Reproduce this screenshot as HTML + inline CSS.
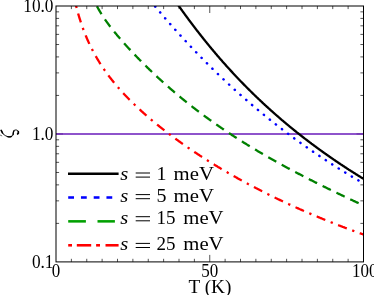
<!DOCTYPE html>
<html><head><meta charset="utf-8"><title>chart</title>
<style>html,body{margin:0;padding:0;background:#fff;width:374px;height:295px;overflow:hidden}</style></head>
<body>
<svg width="374" height="295" viewBox="0 0 374 295" style="display:block;position:absolute;left:0;top:0;will-change:transform">
<defs><clipPath id="c"><rect x="56.0" y="6.0" width="307.5" height="255.89999999999998"/></clipPath></defs>
<rect width="374" height="295" fill="#fff"/>
<path d="M71.38,261.9v-3.1M71.38,6.0v3.1M86.75,261.9v-3.1M86.75,6.0v3.1M102.12,261.9v-3.1M102.12,6.0v3.1M117.50,261.9v-3.1M117.50,6.0v3.1M132.88,261.9v-3.1M132.88,6.0v3.1M148.25,261.9v-3.1M148.25,6.0v3.1M163.62,261.9v-3.1M163.62,6.0v3.1M179.00,261.9v-3.1M179.00,6.0v3.1M194.38,261.9v-3.1M194.38,6.0v3.1M209.75,261.9v-7.0M209.75,6.0v7.0M225.12,261.9v-3.1M225.12,6.0v3.1M240.50,261.9v-3.1M240.50,6.0v3.1M255.88,261.9v-3.1M255.88,6.0v3.1M271.25,261.9v-3.1M271.25,6.0v3.1M286.62,261.9v-3.1M286.62,6.0v3.1M302.00,261.9v-3.1M302.00,6.0v3.1M317.38,261.9v-3.1M317.38,6.0v3.1M332.75,261.9v-3.1M332.75,6.0v3.1M348.12,261.9v-3.1M348.12,6.0v3.1M56.0,223.38h3.1M363.5,223.38h-3.1M56.0,200.85h3.1M363.5,200.85h-3.1M56.0,184.87h3.1M363.5,184.87h-3.1M56.0,172.47h3.1M363.5,172.47h-3.1M56.0,162.34h3.1M363.5,162.34h-3.1M56.0,153.77h3.1M363.5,153.77h-3.1M56.0,146.35h3.1M363.5,146.35h-3.1M56.0,139.80h3.1M363.5,139.80h-3.1M56.0,133.95h7.0M363.5,133.95h-7.0M56.0,95.43h3.1M363.5,95.43h-3.1M56.0,72.90h3.1M363.5,72.90h-3.1M56.0,56.92h3.1M363.5,56.92h-3.1M56.0,44.52h3.1M363.5,44.52h-3.1M56.0,34.39h3.1M363.5,34.39h-3.1M56.0,25.82h3.1M363.5,25.82h-3.1M56.0,18.40h3.1M363.5,18.40h-3.1M56.0,11.85h3.1M363.5,11.85h-3.1" stroke="#000" stroke-opacity="0.75" stroke-width="0.9" fill="none"/>
<line x1="56.0" x2="363.5" y1="133.95" y2="133.95" stroke="rgb(104,26,185)" stroke-opacity="0.75" stroke-width="2"/>
<g clip-path="url(#c)" fill="none" stroke-width="2.30">
<path d="M74.50,-0.55 L74.98,1.51 L75.47,3.50 L75.95,5.44 L76.44,7.33 L76.92,9.16 L77.41,10.94 L77.89,12.67 L78.38,14.36 L78.86,16.00 L79.35,17.60 L79.83,19.16 L80.32,20.69 L80.80,22.18 L81.29,23.63 L81.77,25.05 L82.26,26.44 L82.74,27.79 L83.23,29.12 L83.71,30.42 L84.20,31.70 L84.68,32.94 L85.17,34.17 L85.65,35.36 L86.14,36.54 L86.62,37.69 L87.11,38.83 L87.59,39.94 L88.08,41.03 L88.56,42.10 L89.05,43.16 L89.53,44.20 L90.02,45.22 L90.50,46.22 L90.99,47.21 L91.47,48.18 L91.96,49.14 L92.44,50.08 L92.93,51.01 L93.41,51.93 L93.90,52.83 L94.38,53.72 L94.87,54.60 L95.35,55.47 L95.84,56.33 L96.32,57.17 L96.81,58.00 L97.29,58.83 L97.78,59.64 L98.26,60.44 L98.75,61.24 L99.23,62.02 L99.72,62.80 L100.20,63.57 L100.69,64.33 L101.17,65.08 L101.66,65.82 L102.14,66.55 L102.63,67.28 L103.11,68.00 L103.60,68.71 L104.08,69.42 L104.57,70.12 L105.05,70.81 L105.54,71.49 L106.02,72.17 L106.51,72.85 L106.99,73.51 L107.48,74.17 L107.96,74.83 L108.45,75.48 L108.93,76.12 L109.42,76.76 L109.90,77.40 L110.39,78.02 L110.87,78.65 L111.36,79.27 L111.84,79.88 L112.33,80.49 L112.81,81.09 L113.30,81.69 L113.78,82.29 L114.27,82.88 L114.75,83.47 L115.24,84.05 L115.72,84.63 L116.21,85.21 L116.69,85.78 L117.18,86.35 L117.66,86.91 L118.15,87.47 L118.63,88.03 L119.12,88.58 L119.60,89.13 L120.09,89.68 L120.57,90.22 L121.06,90.76 L121.54,91.29 L122.03,91.83 L122.51,92.36 L123.00,92.89 L123.48,93.41 L123.97,93.93 L124.45,94.45 L124.94,94.97 L125.42,95.48 L125.91,95.99 L126.39,96.50 L126.88,97.00 L127.36,97.50 L127.85,98.00 L128.33,98.50 L128.82,99.00 L129.30,99.49 L129.79,99.98 L130.27,100.47 L130.76,100.95 L131.24,101.43 L131.73,101.91 L132.21,102.39 L132.70,102.87 L133.18,103.34 L133.67,103.82 L134.15,104.29 L134.64,104.75 L135.12,105.22 L135.61,105.68 L136.09,106.14 L136.58,106.60 L137.06,107.06 L137.55,107.52 L138.03,107.97 L138.52,108.42 L139.00,108.87 L139.49,109.32 L139.97,109.77 L140.46,110.22 L140.94,110.66 L141.43,111.10 L141.91,111.54 L142.40,111.98 L142.88,112.41 L143.37,112.85 L143.85,113.28 L144.34,113.71 L144.82,114.14 L145.31,114.57 L145.79,115.00 L146.28,115.43 L146.76,115.85 L147.25,116.27 L147.73,116.69 L148.22,117.11 L148.70,117.53 L149.19,117.95 L149.67,118.36 L150.16,118.78 L150.64,119.19 L151.13,119.60 L151.61,120.01 L152.10,120.42 L152.58,120.82 L153.07,121.23 L153.55,121.63 L154.04,122.04 L154.52,122.44 L155.01,122.84 L155.49,123.24 L155.98,123.64 L156.46,124.03 L156.95,124.43 L157.43,124.82 L157.92,125.22 L158.40,125.61 L158.89,126.00 L159.37,126.39 L159.86,126.78 L160.34,127.16 L160.83,127.55 L161.31,127.93 L161.80,128.32 L162.28,128.70 L162.77,129.08 L163.25,129.46 L163.74,129.84 L164.22,130.22 L164.71,130.60 L165.19,130.97 L165.68,131.35 L166.16,131.72 L166.65,132.10 L167.13,132.47 L167.62,132.84 L168.10,133.21 L168.59,133.58 L169.07,133.95 L169.56,134.31 L170.04,134.68 L170.53,135.04 L171.01,135.41 L171.49,135.77 L171.98,136.13 L172.46,136.49 L172.95,136.85 L173.43,137.21 L173.92,137.57 L174.40,137.93 L174.89,138.29 L175.37,138.64 L175.86,139.00 L176.34,139.35 L176.83,139.70 L177.31,140.06 L177.80,140.41 L178.28,140.76 L178.77,141.11 L179.25,141.45 L179.74,141.80 L180.22,142.15 L180.71,142.50 L181.19,142.84 L181.68,143.18 L182.16,143.53 L182.65,143.87 L183.13,144.21 L183.62,144.55 L184.10,144.89 L184.59,145.23 L185.07,145.57 L185.56,145.91 L186.04,146.25 L186.53,146.58 L187.01,146.92 L187.50,147.25 L187.98,147.59 L188.47,147.92 L188.95,148.25 L189.44,148.58 L189.92,148.91 L190.41,149.24 L190.89,149.57 L191.38,149.90 L191.86,150.23 L192.35,150.56 L192.83,150.88 L193.32,151.21 L193.80,151.53 L194.29,151.86 L194.77,152.18 L195.26,152.50 L195.74,152.83 L196.23,153.15 L196.71,153.47 L197.20,153.79 L197.68,154.11 L198.17,154.43 L198.65,154.74 L199.14,155.06 L199.62,155.38 L200.11,155.69 L200.59,156.01 L201.08,156.32 L201.56,156.63 L202.05,156.95 L202.53,157.26 L203.02,157.57 L203.50,157.88 L203.99,158.19 L204.47,158.50 L204.96,158.81 L205.44,159.12 L205.93,159.43 L206.41,159.73 L206.90,160.04 L207.38,160.35 L207.87,160.65 L208.35,160.96 L208.84,161.26 L209.32,161.56 L209.81,161.87 L210.29,162.17 L210.78,162.47 L211.26,162.77 L211.75,163.07 L212.23,163.37 L212.72,163.67 L213.20,163.97 L213.69,164.26 L214.17,164.56 L214.66,164.86 L215.14,165.15 L215.63,165.45 L216.11,165.74 L216.60,166.04 L217.08,166.33 L217.57,166.62 L218.05,166.92 L218.54,167.21 L219.02,167.50 L219.51,167.79 L219.99,168.08 L220.48,168.37 L220.96,168.66 L221.45,168.95 L221.93,169.23 L222.42,169.52 L222.90,169.81 L223.39,170.09 L223.87,170.38 L224.36,170.66 L224.84,170.95 L225.33,171.23 L225.81,171.52 L226.30,171.80 L226.78,172.08 L227.27,172.36 L227.75,172.64 L228.24,172.92 L228.72,173.20 L229.21,173.48 L229.69,173.76 L230.18,174.04 L230.66,174.32 L231.15,174.59 L231.63,174.87 L232.12,175.15 L232.60,175.42 L233.09,175.70 L233.57,175.97 L234.06,176.25 L234.54,176.52 L235.03,176.79 L235.51,177.07 L236.00,177.34 L236.48,177.61 L236.97,177.88 L237.45,178.15 L237.94,178.42 L238.42,178.69 L238.91,178.96 L239.39,179.23 L239.88,179.50 L240.36,179.76 L240.85,180.03 L241.33,180.30 L241.82,180.56 L242.30,180.83 L242.79,181.09 L243.27,181.36 L243.76,181.62 L244.24,181.89 L244.73,182.15 L245.21,182.41 L245.70,182.67 L246.18,182.93 L246.67,183.20 L247.15,183.46 L247.64,183.72 L248.12,183.98 L248.61,184.23 L249.09,184.49 L249.58,184.75 L250.06,185.01 L250.55,185.27 L251.03,185.52 L251.52,185.78 L252.00,186.04 L252.49,186.29 L252.97,186.55 L253.46,186.80 L253.94,187.05 L254.43,187.31 L254.91,187.56 L255.40,187.81 L255.88,188.07 L256.37,188.32 L256.85,188.57 L257.34,188.82 L257.82,189.07 L258.31,189.32 L258.79,189.57 L259.28,189.82 L259.76,190.07 L260.25,190.32 L260.73,190.56 L261.22,190.81 L261.70,191.06 L262.19,191.30 L262.67,191.55 L263.16,191.79 L263.64,192.04 L264.13,192.28 L264.61,192.53 L265.10,192.77 L265.58,193.02 L266.07,193.26 L266.55,193.50 L267.04,193.74 L267.52,193.98 L268.01,194.23 L268.49,194.47 L268.97,194.71 L269.46,194.95 L269.94,195.19 L270.43,195.43 L270.91,195.66 L271.40,195.90 L271.88,196.14 L272.37,196.38 L272.85,196.61 L273.34,196.85 L273.82,197.09 L274.31,197.32 L274.79,197.56 L275.28,197.79 L275.76,198.03 L276.25,198.26 L276.73,198.49 L277.22,198.73 L277.70,198.96 L278.19,199.19 L278.67,199.43 L279.16,199.66 L279.64,199.89 L280.13,200.12 L280.61,200.35 L281.10,200.58 L281.58,200.81 L282.07,201.04 L282.55,201.27 L283.04,201.50 L283.52,201.72 L284.01,201.95 L284.49,202.18 L284.98,202.40 L285.46,202.63 L285.95,202.86 L286.43,203.08 L286.92,203.31 L287.40,203.53 L287.89,203.76 L288.37,203.98 L288.86,204.21 L289.34,204.43 L289.83,204.65 L290.31,204.87 L290.80,205.10 L291.28,205.32 L291.77,205.54 L292.25,205.76 L292.74,205.98 L293.22,206.20 L293.71,206.42 L294.19,206.64 L294.68,206.86 L295.16,207.08 L295.65,207.30 L296.13,207.52 L296.62,207.73 L297.10,207.95 L297.59,208.17 L298.07,208.38 L298.56,208.60 L299.04,208.82 L299.53,209.03 L300.01,209.25 L300.50,209.46 L300.98,209.68 L301.47,209.89 L301.95,210.10 L302.44,210.32 L302.92,210.53 L303.41,210.74 L303.89,210.95 L304.38,211.17 L304.86,211.38 L305.35,211.59 L305.83,211.80 L306.32,212.01 L306.80,212.22 L307.29,212.43 L307.77,212.64 L308.26,212.85 L308.74,213.06 L309.23,213.27 L309.71,213.47 L310.20,213.68 L310.68,213.89 L311.17,214.10 L311.65,214.30 L312.14,214.51 L312.62,214.71 L313.11,214.92 L313.59,215.12 L314.08,215.33 L314.56,215.53 L315.05,215.74 L315.53,215.94 L316.02,216.15 L316.50,216.35 L316.99,216.55 L317.47,216.75 L317.96,216.96 L318.44,217.16 L318.93,217.36 L319.41,217.56 L319.90,217.76 L320.38,217.96 L320.87,218.16 L321.35,218.36 L321.84,218.56 L322.32,218.76 L322.81,218.96 L323.29,219.16 L323.78,219.35 L324.26,219.55 L324.75,219.75 L325.23,219.95 L325.72,220.14 L326.20,220.34 L326.69,220.54 L327.17,220.73 L327.66,220.93 L328.14,221.12 L328.63,221.32 L329.11,221.51 L329.60,221.71 L330.08,221.90 L330.57,222.09 L331.05,222.29 L331.54,222.48 L332.02,222.67 L332.51,222.86 L332.99,223.06 L333.48,223.25 L333.96,223.44 L334.45,223.63 L334.93,223.82 L335.42,224.01 L335.90,224.20 L336.39,224.39 L336.87,224.58 L337.36,224.77 L337.84,224.96 L338.33,225.15 L338.81,225.34 L339.30,225.52 L339.78,225.71 L340.27,225.90 L340.75,226.08 L341.24,226.27 L341.72,226.46 L342.21,226.64 L342.69,226.83 L343.18,227.01 L343.66,227.20 L344.15,227.38 L344.63,227.57 L345.12,227.75 L345.60,227.94 L346.09,228.12 L346.57,228.30 L347.06,228.49 L347.54,228.67 L348.03,228.85 L348.51,229.03 L349.00,229.22 L349.48,229.40 L349.97,229.58 L350.45,229.76 L350.94,229.94 L351.42,230.12 L351.91,230.30 L352.39,230.48 L352.88,230.66 L353.36,230.84 L353.85,231.02 L354.33,231.19 L354.82,231.37 L355.30,231.55 L355.79,231.73 L356.27,231.91 L356.76,232.08 L357.24,232.26 L357.73,232.44 L358.21,232.61 L358.70,232.79 L359.18,232.96 L359.67,233.14 L360.15,233.31 L360.64,233.49 L361.12,233.66 L361.61,233.84 L362.09,234.01 L362.58,234.18 L363.06,234.36 L363.55,234.53 L364.03,234.70 L364.52,234.88 L365.00,235.05" stroke="#ff0000" stroke-dasharray="9.3 5.75 2.3 5.75" stroke-dashoffset="8.55"/>
<path d="M95.50,3.40 L95.95,4.31 L96.40,5.19 L96.85,6.06 L97.30,6.91 L97.75,7.74 L98.20,8.56 L98.65,9.36 L99.10,10.15 L99.55,10.92 L100.00,11.68 L100.45,12.43 L100.90,13.17 L101.35,13.90 L101.80,14.62 L102.25,15.32 L102.70,16.02 L103.15,16.71 L103.60,17.39 L104.05,18.06 L104.50,18.72 L104.95,19.38 L105.40,20.03 L105.85,20.67 L106.30,21.31 L106.75,21.94 L107.20,22.56 L107.65,23.18 L108.10,23.79 L108.55,24.40 L109.00,25.00 L109.45,25.60 L109.90,26.19 L110.35,26.78 L110.80,27.36 L111.25,27.94 L111.70,28.52 L112.15,29.09 L112.60,29.66 L113.05,30.22 L113.50,30.78 L113.95,31.34 L114.40,31.90 L114.85,32.45 L115.30,33.00 L115.75,33.54 L116.20,34.09 L116.65,34.63 L117.10,35.16 L117.55,35.70 L118.00,36.23 L118.45,36.76 L118.90,37.29 L119.35,37.82 L119.80,38.34 L120.25,38.86 L120.70,39.38 L121.15,39.90 L121.60,40.41 L122.05,40.93 L122.49,41.44 L122.94,41.95 L123.39,42.45 L123.84,42.96 L124.29,43.46 L124.74,43.97 L125.19,44.47 L125.64,44.97 L126.09,45.46 L126.54,45.96 L126.99,46.45 L127.44,46.95 L127.89,47.44 L128.34,47.93 L128.79,48.42 L129.24,48.90 L129.69,49.39 L130.14,49.87 L130.59,50.36 L131.04,50.84 L131.49,51.32 L131.94,51.80 L132.39,52.28 L132.84,52.75 L133.29,53.23 L133.74,53.70 L134.19,54.17 L134.64,54.64 L135.09,55.11 L135.54,55.58 L135.99,56.05 L136.44,56.52 L136.89,56.98 L137.34,57.45 L137.79,57.91 L138.24,58.37 L138.69,58.83 L139.14,59.29 L139.59,59.75 L140.04,60.21 L140.49,60.66 L140.94,61.12 L141.39,61.57 L141.84,62.02 L142.29,62.48 L142.74,62.93 L143.19,63.38 L143.64,63.82 L144.09,64.27 L144.54,64.72 L144.99,65.16 L145.44,65.61 L145.89,66.05 L146.34,66.49 L146.79,66.93 L147.24,67.37 L147.69,67.81 L148.14,68.25 L148.59,68.69 L149.04,69.12 L149.49,69.56 L149.94,69.99 L150.39,70.43 L150.84,70.86 L151.29,71.29 L151.74,71.72 L152.19,72.15 L152.64,72.58 L153.09,73.00 L153.54,73.43 L153.99,73.85 L154.44,74.28 L154.89,74.70 L155.34,75.12 L155.79,75.54 L156.24,75.96 L156.69,76.38 L157.14,76.80 L157.59,77.22 L158.04,77.64 L158.49,78.05 L158.94,78.47 L159.39,78.88 L159.84,79.29 L160.29,79.70 L160.74,80.11 L161.19,80.52 L161.64,80.93 L162.09,81.34 L162.54,81.75 L162.99,82.15 L163.44,82.56 L163.89,82.96 L164.34,83.37 L164.79,83.77 L165.24,84.17 L165.69,84.57 L166.14,84.97 L166.59,85.37 L167.04,85.77 L167.49,86.16 L167.94,86.56 L168.39,86.95 L168.84,87.35 L169.29,87.74 L169.74,88.14 L170.19,88.53 L170.64,88.92 L171.09,89.31 L171.54,89.70 L171.99,90.08 L172.44,90.47 L172.89,90.86 L173.34,91.24 L173.79,91.63 L174.24,92.01 L174.69,92.40 L175.14,92.78 L175.59,93.16 L176.04,93.54 L176.48,93.92 L176.93,94.30 L177.38,94.67 L177.83,95.05 L178.28,95.43 L178.73,95.80 L179.18,96.18 L179.63,96.55 L180.08,96.92 L180.53,97.30 L180.98,97.67 L181.43,98.04 L181.88,98.41 L182.33,98.78 L182.78,99.14 L183.23,99.51 L183.68,99.88 L184.13,100.24 L184.58,100.61 L185.03,100.97 L185.48,101.33 L185.93,101.70 L186.38,102.06 L186.83,102.42 L187.28,102.78 L187.73,103.14 L188.18,103.50 L188.63,103.85 L189.08,104.21 L189.53,104.57 L189.98,104.92 L190.43,105.28 L190.88,105.63 L191.33,105.98 L191.78,106.34 L192.23,106.69 L192.68,107.04 L193.13,107.39 L193.58,107.74 L194.03,108.09 L194.48,108.43 L194.93,108.78 L195.38,109.13 L195.83,109.47 L196.28,109.82 L196.73,110.16 L197.18,110.50 L197.63,110.85 L198.08,111.19 L198.53,111.53 L198.98,111.87 L199.43,112.21 L199.88,112.55 L200.33,112.89 L200.78,113.22 L201.23,113.56 L201.68,113.90 L202.13,114.23 L202.58,114.57 L203.03,114.90 L203.48,115.23 L203.93,115.57 L204.38,115.90 L204.83,116.23 L205.28,116.56 L205.73,116.89 L206.18,117.22 L206.63,117.55 L207.08,117.87 L207.53,118.20 L207.98,118.53 L208.43,118.85 L208.88,119.18 L209.33,119.50 L209.78,119.83 L210.23,120.15 L210.68,120.47 L211.13,120.79 L211.58,121.12 L212.03,121.44 L212.48,121.76 L212.93,122.07 L213.38,122.39 L213.83,122.71 L214.28,123.03 L214.73,123.35 L215.18,123.66 L215.63,123.98 L216.08,124.29 L216.53,124.61 L216.98,124.92 L217.43,125.23 L217.88,125.54 L218.33,125.86 L218.78,126.17 L219.23,126.48 L219.68,126.79 L220.13,127.10 L220.58,127.41 L221.03,127.71 L221.48,128.02 L221.93,128.33 L222.38,128.63 L222.83,128.94 L223.28,129.25 L223.73,129.55 L224.18,129.85 L224.63,130.16 L225.08,130.46 L225.53,130.76 L225.98,131.06 L226.43,131.36 L226.88,131.67 L227.33,131.96 L227.78,132.26 L228.23,132.56 L228.68,132.86 L229.13,133.16 L229.58,133.46 L230.03,133.75 L230.47,134.05 L230.92,134.34 L231.37,134.64 L231.82,134.93 L232.27,135.23 L232.72,135.52 L233.17,135.81 L233.62,136.11 L234.07,136.40 L234.52,136.69 L234.97,136.98 L235.42,137.27 L235.87,137.56 L236.32,137.85 L236.77,138.14 L237.22,138.42 L237.67,138.71 L238.12,139.00 L238.57,139.29 L239.02,139.57 L239.47,139.86 L239.92,140.14 L240.37,140.43 L240.82,140.71 L241.27,140.99 L241.72,141.28 L242.17,141.56 L242.62,141.84 L243.07,142.12 L243.52,142.40 L243.97,142.69 L244.42,142.97 L244.87,143.25 L245.32,143.52 L245.77,143.80 L246.22,144.08 L246.67,144.36 L247.12,144.64 L247.57,144.91 L248.02,145.19 L248.47,145.47 L248.92,145.74 L249.37,146.02 L249.82,146.29 L250.27,146.56 L250.72,146.84 L251.17,147.11 L251.62,147.38 L252.07,147.66 L252.52,147.93 L252.97,148.20 L253.42,148.47 L253.87,148.74 L254.32,149.01 L254.77,149.28 L255.22,149.55 L255.67,149.82 L256.12,150.09 L256.57,150.35 L257.02,150.62 L257.47,150.89 L257.92,151.15 L258.37,151.42 L258.82,151.69 L259.27,151.95 L259.72,152.22 L260.17,152.48 L260.62,152.75 L261.07,153.01 L261.52,153.27 L261.97,153.54 L262.42,153.80 L262.87,154.06 L263.32,154.32 L263.77,154.58 L264.22,154.84 L264.67,155.10 L265.12,155.36 L265.57,155.62 L266.02,155.88 L266.47,156.14 L266.92,156.40 L267.37,156.66 L267.82,156.92 L268.27,157.17 L268.72,157.43 L269.17,157.69 L269.62,157.94 L270.07,158.20 L270.52,158.46 L270.97,158.71 L271.42,158.97 L271.87,159.22 L272.32,159.47 L272.77,159.73 L273.22,159.98 L273.67,160.23 L274.12,160.49 L274.57,160.74 L275.02,160.99 L275.47,161.24 L275.92,161.49 L276.37,161.75 L276.82,162.00 L277.27,162.25 L277.72,162.50 L278.17,162.75 L278.62,162.99 L279.07,163.24 L279.52,163.49 L279.97,163.74 L280.42,163.99 L280.87,164.24 L281.32,164.48 L281.77,164.73 L282.22,164.98 L282.67,165.22 L283.12,165.47 L283.57,165.71 L284.02,165.96 L284.46,166.20 L284.91,166.45 L285.36,166.69 L285.81,166.94 L286.26,167.18 L286.71,167.42 L287.16,167.67 L287.61,167.91 L288.06,168.15 L288.51,168.39 L288.96,168.63 L289.41,168.88 L289.86,169.12 L290.31,169.36 L290.76,169.60 L291.21,169.84 L291.66,170.08 L292.11,170.32 L292.56,170.56 L293.01,170.80 L293.46,171.04 L293.91,171.27 L294.36,171.51 L294.81,171.75 L295.26,171.99 L295.71,172.23 L296.16,172.46 L296.61,172.70 L297.06,172.94 L297.51,173.17 L297.96,173.41 L298.41,173.64 L298.86,173.88 L299.31,174.11 L299.76,174.35 L300.21,174.58 L300.66,174.82 L301.11,175.05 L301.56,175.29 L302.01,175.52 L302.46,175.75 L302.91,175.99 L303.36,176.22 L303.81,176.45 L304.26,176.68 L304.71,176.92 L305.16,177.15 L305.61,177.38 L306.06,177.61 L306.51,177.84 L306.96,178.07 L307.41,178.30 L307.86,178.53 L308.31,178.76 L308.76,178.99 L309.21,179.22 L309.66,179.45 L310.11,179.68 L310.56,179.91 L311.01,180.14 L311.46,180.37 L311.91,180.59 L312.36,180.82 L312.81,181.05 L313.26,181.28 L313.71,181.50 L314.16,181.73 L314.61,181.96 L315.06,182.18 L315.51,182.41 L315.96,182.64 L316.41,182.86 L316.86,183.09 L317.31,183.31 L317.76,183.54 L318.21,183.76 L318.66,183.99 L319.11,184.21 L319.56,184.44 L320.01,184.66 L320.46,184.88 L320.91,185.11 L321.36,185.33 L321.81,185.55 L322.26,185.78 L322.71,186.00 L323.16,186.22 L323.61,186.44 L324.06,186.67 L324.51,186.89 L324.96,187.11 L325.41,187.33 L325.86,187.55 L326.31,187.77 L326.76,187.99 L327.21,188.21 L327.66,188.44 L328.11,188.66 L328.56,188.88 L329.01,189.10 L329.46,189.32 L329.91,189.53 L330.36,189.75 L330.81,189.97 L331.26,190.19 L331.71,190.41 L332.16,190.63 L332.61,190.85 L333.06,191.07 L333.51,191.28 L333.96,191.50 L334.41,191.72 L334.86,191.94 L335.31,192.15 L335.76,192.37 L336.21,192.59 L336.66,192.81 L337.11,193.02 L337.56,193.24 L338.01,193.45 L338.45,193.67 L338.90,193.89 L339.35,194.10 L339.80,194.32 L340.25,194.53 L340.70,194.75 L341.15,194.96 L341.60,195.18 L342.05,195.39 L342.50,195.61 L342.95,195.82 L343.40,196.04 L343.85,196.25 L344.30,196.46 L344.75,196.68 L345.20,196.89 L345.65,197.11 L346.10,197.32 L346.55,197.53 L347.00,197.75 L347.45,197.96 L347.90,198.17 L348.35,198.38 L348.80,198.60 L349.25,198.81 L349.70,199.02 L350.15,199.23 L350.60,199.44 L351.05,199.66 L351.50,199.87 L351.95,200.08 L352.40,200.29 L352.85,200.50 L353.30,200.71 L353.75,200.92 L354.20,201.13 L354.65,201.34 L355.10,201.55 L355.55,201.76 L356.00,201.97 L356.45,202.18 L356.90,202.39 L357.35,202.60 L357.80,202.81 L358.25,203.02 L358.70,203.23 L359.15,203.44 L359.60,203.65 L360.05,203.86 L360.50,204.07 L360.95,204.28 L361.40,204.48 L361.85,204.69 L362.30,204.90 L362.75,205.11 L363.20,205.32 L363.65,205.53 L364.10,205.73 L364.55,205.94 L365.00,206.15" stroke="#008000" stroke-dasharray="9.2 6.17" stroke-dashoffset="12.16"/>
<path d="M153.50,4.45 L153.85,4.88 L154.21,5.30 L154.56,5.73 L154.91,6.15 L155.27,6.58 L155.62,7.00 L155.97,7.43 L156.32,7.85 L156.68,8.27 L157.03,8.69 L157.38,9.11 L157.74,9.53 L158.09,9.95 L158.44,10.37 L158.80,10.79 L159.15,11.21 L159.50,11.63 L159.86,12.05 L160.21,12.46 L160.56,12.88 L160.91,13.30 L161.27,13.71 L161.62,14.13 L161.97,14.54 L162.33,14.95 L162.68,15.37 L163.03,15.78 L163.39,16.19 L163.74,16.60 L164.09,17.01 L164.45,17.43 L164.80,17.84 L165.15,18.24 L165.51,18.65 L165.86,19.06 L166.21,19.47 L166.56,19.88 L166.92,20.28 L167.27,20.69 L167.62,21.10 L167.98,21.50 L168.33,21.91 L168.68,22.31 L169.04,22.71 L169.39,23.12 L169.74,23.52 L170.10,23.92 L170.45,24.32 L170.80,24.73 L171.15,25.13 L171.51,25.53 L171.86,25.93 L172.21,26.33 L172.57,26.72 L172.92,27.12 L173.27,27.52 L173.63,27.92 L173.98,28.31 L174.33,28.71 L174.69,29.11 L175.04,29.50 L175.39,29.90 L175.74,30.29 L176.10,30.68 L176.45,31.08 L176.80,31.47 L177.16,31.86 L177.51,32.26 L177.86,32.65 L178.22,33.04 L178.57,33.43 L178.92,33.82 L179.28,34.21 L179.63,34.60 L179.98,34.98 L180.33,35.37 L180.69,35.76 L181.04,36.15 L181.39,36.53 L181.75,36.92 L182.10,37.31 L182.45,37.69 L182.81,38.07 L183.16,38.46 L183.51,38.84 L183.87,39.23 L184.22,39.61 L184.57,39.99 L184.92,40.37 L185.28,40.75 L185.63,41.13 L185.98,41.51 L186.34,41.89 L186.69,42.27 L187.04,42.65 L187.40,43.03 L187.75,43.41 L188.10,43.79 L188.46,44.16 L188.81,44.54 L189.16,44.92 L189.52,45.29 L189.87,45.67 L190.22,46.04 L190.57,46.42 L190.93,46.79 L191.28,47.16 L191.63,47.54 L191.99,47.91 L192.34,48.28 L192.69,48.65 L193.05,49.02 L193.40,49.39 L193.75,49.76 L194.11,50.13 L194.46,50.50 L194.81,50.87 L195.16,51.24 L195.52,51.61 L195.87,51.97 L196.22,52.34 L196.58,52.71 L196.93,53.07 L197.28,53.44 L197.64,53.80 L197.99,54.17 L198.34,54.53 L198.70,54.90 L199.05,55.26 L199.40,55.62 L199.75,55.98 L200.11,56.35 L200.46,56.71 L200.81,57.07 L201.17,57.43 L201.52,57.79 L201.87,58.15 L202.23,58.51 L202.58,58.87 L202.93,59.23 L203.29,59.58 L203.64,59.94 L203.99,60.30 L204.34,60.65 L204.70,61.01 L205.05,61.37 L205.40,61.72 L205.76,62.08 L206.11,62.43 L206.46,62.78 L206.82,63.14 L207.17,63.49 L207.52,63.84 L207.88,64.20 L208.23,64.55 L208.58,64.90 L208.93,65.25 L209.29,65.60 L209.64,65.95 L209.99,66.30 L210.35,66.65 L210.70,67.00 L211.05,67.35 L211.41,67.69 L211.76,68.04 L212.11,68.39 L212.47,68.73 L212.82,69.08 L213.17,69.43 L213.53,69.77 L213.88,70.12 L214.23,70.46 L214.58,70.80 L214.94,71.15 L215.29,71.49 L215.64,71.83 L216.00,72.17 L216.35,72.52 L216.70,72.86 L217.06,73.20 L217.41,73.54 L217.76,73.88 L218.12,74.22 L218.47,74.56 L218.82,74.90 L219.17,75.23 L219.53,75.57 L219.88,75.91 L220.23,76.25 L220.59,76.58 L220.94,76.92 L221.29,77.26 L221.65,77.59 L222.00,77.93 L222.35,78.26 L222.71,78.59 L223.06,78.93 L223.41,79.26 L223.76,79.59 L224.12,79.93 L224.47,80.26 L224.82,80.59 L225.18,80.92 L225.53,81.25 L225.88,81.58 L226.24,81.91 L226.59,82.24 L226.94,82.57 L227.30,82.90 L227.65,83.23 L228.00,83.56 L228.35,83.88 L228.71,84.21 L229.06,84.54 L229.41,84.86 L229.77,85.19 L230.12,85.52 L230.47,85.84 L230.83,86.17 L231.18,86.49 L231.53,86.81 L231.89,87.14 L232.24,87.46 L232.59,87.78 L232.94,88.10 L233.30,88.43 L233.65,88.75 L234.00,89.07 L234.36,89.39 L234.71,89.71 L235.06,90.03 L235.42,90.35 L235.77,90.67 L236.12,90.99 L236.48,91.30 L236.83,91.62 L237.18,91.94 L237.54,92.26 L237.89,92.57 L238.24,92.89 L238.59,93.21 L238.95,93.52 L239.30,93.84 L239.65,94.15 L240.01,94.46 L240.36,94.78 L240.71,95.09 L241.07,95.41 L241.42,95.72 L241.77,96.03 L242.13,96.34 L242.48,96.65 L242.83,96.96 L243.18,97.28 L243.54,97.59 L243.89,97.90 L244.24,98.20 L244.60,98.51 L244.95,98.82 L245.30,99.13 L245.66,99.44 L246.01,99.75 L246.36,100.05 L246.72,100.36 L247.07,100.67 L247.42,100.97 L247.77,101.28 L248.13,101.58 L248.48,101.89 L248.83,102.19 L249.19,102.50 L249.54,102.80 L249.89,103.10 L250.25,103.41 L250.60,103.71 L250.95,104.01 L251.31,104.31 L251.66,104.62 L252.01,104.92 L252.36,105.22 L252.72,105.52 L253.07,105.82 L253.42,106.12 L253.78,106.42 L254.13,106.72 L254.48,107.01 L254.84,107.31 L255.19,107.61 L255.54,107.91 L255.90,108.20 L256.25,108.50 L256.60,108.80 L256.95,109.09 L257.31,109.39 L257.66,109.68 L258.01,109.98 L258.37,110.27 L258.72,110.57 L259.07,110.86 L259.43,111.15 L259.78,111.45 L260.13,111.74 L260.49,112.03 L260.84,112.32 L261.19,112.61 L261.55,112.90 L261.90,113.19 L262.25,113.49 L262.60,113.78 L262.96,114.06 L263.31,114.35 L263.66,114.64 L264.02,114.93 L264.37,115.22 L264.72,115.51 L265.08,115.79 L265.43,116.08 L265.78,116.37 L266.14,116.65 L266.49,116.94 L266.84,117.23 L267.19,117.51 L267.55,117.80 L267.90,118.08 L268.25,118.36 L268.61,118.65 L268.96,118.93 L269.31,119.21 L269.67,119.50 L270.02,119.78 L270.37,120.06 L270.73,120.34 L271.08,120.62 L271.43,120.91 L271.78,121.19 L272.14,121.47 L272.49,121.75 L272.84,122.03 L273.20,122.31 L273.55,122.58 L273.90,122.86 L274.26,123.14 L274.61,123.42 L274.96,123.70 L275.32,123.97 L275.67,124.25 L276.02,124.53 L276.37,124.80 L276.73,125.08 L277.08,125.35 L277.43,125.63 L277.79,125.90 L278.14,126.18 L278.49,126.45 L278.85,126.72 L279.20,127.00 L279.55,127.27 L279.91,127.54 L280.26,127.82 L280.61,128.09 L280.96,128.36 L281.32,128.63 L281.67,128.90 L282.02,129.17 L282.38,129.44 L282.73,129.71 L283.08,129.98 L283.44,130.25 L283.79,130.52 L284.14,130.79 L284.50,131.06 L284.85,131.32 L285.20,131.59 L285.56,131.86 L285.91,132.13 L286.26,132.39 L286.61,132.66 L286.97,132.92 L287.32,133.19 L287.67,133.45 L288.03,133.72 L288.38,133.98 L288.73,134.25 L289.09,134.51 L289.44,134.78 L289.79,135.04 L290.15,135.30 L290.50,135.56 L290.85,135.83 L291.20,136.09 L291.56,136.35 L291.91,136.61 L292.26,136.87 L292.62,137.13 L292.97,137.39 L293.32,137.65 L293.68,137.91 L294.03,138.17 L294.38,138.43 L294.74,138.69 L295.09,138.95 L295.44,139.20 L295.79,139.46 L296.15,139.72 L296.50,139.98 L296.85,140.23 L297.21,140.49 L297.56,140.75 L297.91,141.00 L298.27,141.26 L298.62,141.51 L298.97,141.77 L299.33,142.02 L299.68,142.27 L300.03,142.53 L300.38,142.78 L300.74,143.03 L301.09,143.29 L301.44,143.54 L301.80,143.79 L302.15,144.04 L302.50,144.30 L302.86,144.55 L303.21,144.80 L303.56,145.05 L303.92,145.30 L304.27,145.55 L304.62,145.80 L304.97,146.05 L305.33,146.30 L305.68,146.54 L306.03,146.79 L306.39,147.04 L306.74,147.29 L307.09,147.54 L307.45,147.78 L307.80,148.03 L308.15,148.28 L308.51,148.52 L308.86,148.77 L309.21,149.01 L309.57,149.26 L309.92,149.50 L310.27,149.75 L310.62,149.99 L310.98,150.24 L311.33,150.48 L311.68,150.73 L312.04,150.97 L312.39,151.21 L312.74,151.45 L313.10,151.70 L313.45,151.94 L313.80,152.18 L314.16,152.42 L314.51,152.66 L314.86,152.90 L315.21,153.14 L315.57,153.38 L315.92,153.62 L316.27,153.86 L316.63,154.10 L316.98,154.34 L317.33,154.58 L317.69,154.82 L318.04,155.06 L318.39,155.29 L318.75,155.53 L319.10,155.77 L319.45,156.00 L319.80,156.24 L320.16,156.48 L320.51,156.71 L320.86,156.95 L321.22,157.18 L321.57,157.42 L321.92,157.65 L322.28,157.89 L322.63,158.12 L322.98,158.36 L323.34,158.59 L323.69,158.82 L324.04,159.06 L324.39,159.29 L324.75,159.52 L325.10,159.75 L325.45,159.99 L325.81,160.22 L326.16,160.45 L326.51,160.68 L326.87,160.91 L327.22,161.14 L327.57,161.37 L327.93,161.60 L328.28,161.83 L328.63,162.06 L328.98,162.29 L329.34,162.52 L329.69,162.74 L330.04,162.97 L330.40,163.20 L330.75,163.43 L331.10,163.65 L331.46,163.88 L331.81,164.11 L332.16,164.33 L332.52,164.56 L332.87,164.79 L333.22,165.01 L333.58,165.24 L333.93,165.46 L334.28,165.69 L334.63,165.91 L334.99,166.14 L335.34,166.36 L335.69,166.58 L336.05,166.81 L336.40,167.03 L336.75,167.25 L337.11,167.47 L337.46,167.70 L337.81,167.92 L338.17,168.14 L338.52,168.36 L338.87,168.58 L339.22,168.80 L339.58,169.02 L339.93,169.24 L340.28,169.46 L340.64,169.68 L340.99,169.90 L341.34,170.12 L341.70,170.34 L342.05,170.56 L342.40,170.78 L342.76,171.00 L343.11,171.21 L343.46,171.43 L343.81,171.65 L344.17,171.86 L344.52,172.08 L344.87,172.30 L345.23,172.51 L345.58,172.73 L345.93,172.95 L346.29,173.16 L346.64,173.38 L346.99,173.59 L347.35,173.80 L347.70,174.02 L348.05,174.23 L348.40,174.45 L348.76,174.66 L349.11,174.87 L349.46,175.09 L349.82,175.30 L350.17,175.51 L350.52,175.72 L350.88,175.93 L351.23,176.15 L351.58,176.36 L351.94,176.57 L352.29,176.78 L352.64,176.99 L352.99,177.20 L353.35,177.41 L353.70,177.62 L354.05,177.83 L354.41,178.04 L354.76,178.25 L355.11,178.46 L355.47,178.66 L355.82,178.87 L356.17,179.08 L356.53,179.29 L356.88,179.50 L357.23,179.70 L357.59,179.91 L357.94,180.12 L358.29,180.32 L358.64,180.53 L359.00,180.73 L359.35,180.94 L359.70,181.14 L360.06,181.35 L360.41,181.55 L360.76,181.76 L361.12,181.96 L361.47,182.17 L361.82,182.37 L362.18,182.57 L362.53,182.78 L362.88,182.98 L363.23,183.18 L363.59,183.39 L363.94,183.59 L364.29,183.79 L364.65,183.99 L365.00,184.19" stroke="#0000ff" stroke-linecap="round" stroke-width="2.5" stroke-dasharray="0.2 7.48" stroke-dashoffset="5.01"/>
<path d="M176.00,1.98 L176.47,2.66 L176.95,3.33 L177.42,4.00 L177.89,4.67 L178.37,5.34 L178.84,6.01 L179.32,6.68 L179.79,7.34 L180.26,8.00 L180.74,8.67 L181.21,9.33 L181.68,9.99 L182.16,10.65 L182.63,11.30 L183.11,11.96 L183.58,12.61 L184.05,13.26 L184.53,13.92 L185.00,14.56 L185.47,15.21 L185.95,15.86 L186.42,16.50 L186.89,17.15 L187.37,17.79 L187.84,18.43 L188.32,19.07 L188.79,19.71 L189.26,20.35 L189.74,20.98 L190.21,21.62 L190.68,22.25 L191.16,22.88 L191.63,23.51 L192.11,24.14 L192.58,24.76 L193.05,25.39 L193.53,26.01 L194.00,26.63 L194.47,27.25 L194.95,27.87 L195.42,28.49 L195.89,29.11 L196.37,29.72 L196.84,30.34 L197.32,30.95 L197.79,31.56 L198.26,32.17 L198.74,32.78 L199.21,33.38 L199.68,33.99 L200.16,34.59 L200.63,35.19 L201.11,35.79 L201.58,36.39 L202.05,36.99 L202.53,37.59 L203.00,38.18 L203.47,38.77 L203.95,39.37 L204.42,39.96 L204.89,40.55 L205.37,41.13 L205.84,41.72 L206.32,42.31 L206.79,42.89 L207.26,43.47 L207.74,44.05 L208.21,44.63 L208.68,45.21 L209.16,45.79 L209.63,46.36 L210.11,46.94 L210.58,47.51 L211.05,48.08 L211.53,48.65 L212.00,49.22 L212.47,49.79 L212.95,50.35 L213.42,50.92 L213.89,51.48 L214.37,52.04 L214.84,52.60 L215.32,53.16 L215.79,53.72 L216.26,54.27 L216.74,54.83 L217.21,55.38 L217.68,55.94 L218.16,56.49 L218.63,57.04 L219.11,57.58 L219.58,58.13 L220.05,58.68 L220.53,59.22 L221.00,59.76 L221.47,60.31 L221.95,60.85 L222.42,61.39 L222.89,61.92 L223.37,62.46 L223.84,63.00 L224.32,63.53 L224.79,64.06 L225.26,64.59 L225.74,65.12 L226.21,65.65 L226.68,66.18 L227.16,66.71 L227.63,67.23 L228.11,67.76 L228.58,68.28 L229.05,68.80 L229.53,69.32 L230.00,69.84 L230.47,70.36 L230.95,70.87 L231.42,71.39 L231.89,71.90 L232.37,72.41 L232.84,72.93 L233.32,73.44 L233.79,73.95 L234.26,74.45 L234.74,74.96 L235.21,75.47 L235.68,75.97 L236.16,76.47 L236.63,76.98 L237.11,77.48 L237.58,77.98 L238.05,78.47 L238.53,78.97 L239.00,79.47 L239.47,79.96 L239.95,80.46 L240.42,80.95 L240.89,81.44 L241.37,81.93 L241.84,82.42 L242.32,82.91 L242.79,83.39 L243.26,83.88 L243.74,84.36 L244.21,84.85 L244.68,85.33 L245.16,85.81 L245.63,86.29 L246.11,86.77 L246.58,87.25 L247.05,87.72 L247.53,88.20 L248.00,88.67 L248.47,89.15 L248.95,89.62 L249.42,90.09 L249.89,90.56 L250.37,91.03 L250.84,91.50 L251.32,91.96 L251.79,92.43 L252.26,92.90 L252.74,93.36 L253.21,93.82 L253.68,94.28 L254.16,94.74 L254.63,95.20 L255.11,95.66 L255.58,96.12 L256.05,96.58 L256.53,97.03 L257.00,97.48 L257.47,97.94 L257.95,98.39 L258.42,98.84 L258.89,99.29 L259.37,99.74 L259.84,100.19 L260.32,100.64 L260.79,101.08 L261.26,101.53 L261.74,101.97 L262.21,102.41 L262.68,102.86 L263.16,103.30 L263.63,103.74 L264.11,104.18 L264.58,104.61 L265.05,105.05 L265.53,105.49 L266.00,105.92 L266.47,106.36 L266.95,106.79 L267.42,107.22 L267.89,107.65 L268.37,108.08 L268.84,108.51 L269.32,108.94 L269.79,109.37 L270.26,109.80 L270.74,110.22 L271.21,110.65 L271.68,111.07 L272.16,111.49 L272.63,111.91 L273.11,112.34 L273.58,112.76 L274.05,113.17 L274.53,113.59 L275.00,114.01 L275.47,114.43 L275.95,114.84 L276.42,115.26 L276.89,115.67 L277.37,116.08 L277.84,116.49 L278.32,116.91 L278.79,117.32 L279.26,117.73 L279.74,118.13 L280.21,118.54 L280.68,118.95 L281.16,119.35 L281.63,119.76 L282.11,120.16 L282.58,120.57 L283.05,120.97 L283.53,121.37 L284.00,121.77 L284.47,122.17 L284.95,122.57 L285.42,122.97 L285.89,123.36 L286.37,123.76 L286.84,124.15 L287.32,124.55 L287.79,124.94 L288.26,125.34 L288.74,125.73 L289.21,126.12 L289.68,126.51 L290.16,126.90 L290.63,127.29 L291.11,127.68 L291.58,128.06 L292.05,128.45 L292.53,128.84 L293.00,129.22 L293.47,129.60 L293.95,129.99 L294.42,130.37 L294.89,130.75 L295.37,131.13 L295.84,131.51 L296.32,131.89 L296.79,132.27 L297.26,132.65 L297.74,133.02 L298.21,133.40 L298.68,133.78 L299.16,134.15 L299.63,134.52 L300.11,134.90 L300.58,135.27 L301.05,135.64 L301.53,136.01 L302.00,136.38 L302.47,136.75 L302.95,137.12 L303.42,137.49 L303.89,137.85 L304.37,138.22 L304.84,138.59 L305.32,138.95 L305.79,139.32 L306.26,139.68 L306.74,140.04 L307.21,140.40 L307.68,140.76 L308.16,141.12 L308.63,141.48 L309.11,141.84 L309.58,142.20 L310.05,142.56 L310.53,142.92 L311.00,143.27 L311.47,143.63 L311.95,143.98 L312.42,144.34 L312.89,144.69 L313.37,145.04 L313.84,145.39 L314.32,145.75 L314.79,146.10 L315.26,146.45 L315.74,146.80 L316.21,147.14 L316.68,147.49 L317.16,147.84 L317.63,148.19 L318.11,148.53 L318.58,148.88 L319.05,149.22 L319.53,149.56 L320.00,149.91 L320.47,150.25 L320.95,150.59 L321.42,150.93 L321.89,151.27 L322.37,151.61 L322.84,151.95 L323.32,152.29 L323.79,152.63 L324.26,152.97 L324.74,153.30 L325.21,153.64 L325.68,153.97 L326.16,154.31 L326.63,154.64 L327.11,154.98 L327.58,155.31 L328.05,155.64 L328.53,155.97 L329.00,156.30 L329.47,156.63 L329.95,156.96 L330.42,157.29 L330.89,157.62 L331.37,157.95 L331.84,158.27 L332.32,158.60 L332.79,158.93 L333.26,159.25 L333.74,159.58 L334.21,159.90 L334.68,160.22 L335.16,160.55 L335.63,160.87 L336.11,161.19 L336.58,161.51 L337.05,161.83 L337.53,162.15 L338.00,162.47 L338.47,162.79 L338.95,163.11 L339.42,163.43 L339.89,163.74 L340.37,164.06 L340.84,164.38 L341.32,164.69 L341.79,165.01 L342.26,165.32 L342.74,165.63 L343.21,165.95 L343.68,166.26 L344.16,166.57 L344.63,166.88 L345.11,167.19 L345.58,167.50 L346.05,167.81 L346.53,168.12 L347.00,168.43 L347.47,168.74 L347.95,169.04 L348.42,169.35 L348.89,169.66 L349.37,169.96 L349.84,170.27 L350.32,170.57 L350.79,170.88 L351.26,171.18 L351.74,171.48 L352.21,171.79 L352.68,172.09 L353.16,172.39 L353.63,172.69 L354.11,172.99 L354.58,173.29 L355.05,173.59 L355.53,173.89 L356.00,174.19 L356.47,174.48 L356.95,174.78 L357.42,175.08 L357.89,175.37 L358.37,175.67 L358.84,175.96 L359.32,176.26 L359.79,176.55 L360.26,176.85 L360.74,177.14 L361.21,177.43 L361.68,177.72 L362.16,178.02 L362.63,178.31 L363.11,178.60 L363.58,178.89 L364.05,179.18 L364.53,179.47 L365.00,179.75" stroke="#000000"/>
</g>
<rect x="56.0" y="6.0" width="307.5" height="255.89999999999998" fill="none" stroke="#000" stroke-width="1"/>
<text transform="translate(53.5,11.70) scale(1,1.06)" text-anchor="end" font-family="Liberation Serif, serif" font-size="17.3">10.0</text>
<text transform="translate(53.5,139.95) scale(1,1.06)" text-anchor="end" font-family="Liberation Serif, serif" font-size="17.3">1.0</text>
<text transform="translate(53.5,268.20) scale(1,1.06)" text-anchor="end" font-family="Liberation Serif, serif" font-size="17.3">0.1</text>
<text transform="translate(56.00,276.7) scale(1,1.06)" text-anchor="middle" font-family="Liberation Serif, serif" font-size="17">0</text>
<text transform="translate(209.75,276.7) scale(1,1.06)" text-anchor="middle" font-family="Liberation Serif, serif" font-size="17">50</text>
<text transform="translate(364.80,276.7) scale(1,1.06)" text-anchor="middle" font-family="Liberation Serif, serif" font-size="17">100</text>
<text x="188.4" y="292.5" textLength="43" lengthAdjust="spacingAndGlyphs" font-family="Liberation Serif, serif" font-size="18">T (K)</text>
<g fill="none" stroke="#000" stroke-linecap="round" stroke-linejoin="round"><path d="M1.2,130.3 C1.8,131.6 2.4,132.8 3.0,133.7 C4.5,135.2 6.5,136.6 9.0,136.9 C11.0,137.0 12.6,136.0 13.1,134.4 C13.4,133.2 13.2,131.8 13.9,130.8 C14.6,129.9 16.2,129.7 17.4,130.4 C18.4,131.0 18.7,132.6 18.2,133.6 C18,134 17.6,134.1 17.4,134" stroke-width="1"/><path d="M1.2,130.4L2.5,133.0" stroke-width="1.6"/><path d="M7.6,136.7 C8.8,137.0 10.4,137.0 11.6,136.4" stroke-width="1.3"/><path d="M13.1,134.6 C13.4,133.2 13.2,131.8 13.9,130.8" stroke-width="1.3"/><path d="M18.35,131.6 C18.6,132.6 18.3,133.5 17.6,133.9" stroke-width="1.7"/><path d="M0,135.0L1.8,135.8" stroke-width="0.9" stroke-opacity="0.6"/></g>
<line x1="68" x2="118.6" y1="173.65" y2="173.65" stroke="#000" stroke-width="2.55"/>
<text x="120.2" y="179.9" font-family="Liberation Serif, serif" font-size="19.2" font-style="italic" textLength="8" lengthAdjust="spacingAndGlyphs">s</text>
<path d="M135.7,173.0h14.3M135.7,177.1h14.3" stroke="#000" stroke-width="1"/>
<text x="156.5" y="179.9" font-family="Liberation Serif, serif" font-size="19.2" textLength="10" lengthAdjust="spacingAndGlyphs">1</text>
<text x="173.6" y="179.9" font-family="Liberation Serif, serif" font-size="19.2" textLength="40.3" lengthAdjust="spacingAndGlyphs">meV</text>
<line x1="68.2" x2="74.0" y1="197.5" y2="197.5" stroke="#0000ff" stroke-width="2.55"/>
<line x1="80.95" x2="86.75" y1="197.5" y2="197.5" stroke="#0000ff" stroke-width="2.55"/>
<line x1="93.7" x2="99.5" y1="197.5" y2="197.5" stroke="#0000ff" stroke-width="2.55"/>
<line x1="106.45" x2="112.25" y1="197.5" y2="197.5" stroke="#0000ff" stroke-width="2.55"/>
<text x="120.2" y="201.5" font-family="Liberation Serif, serif" font-size="19.2" font-style="italic" textLength="8" lengthAdjust="spacingAndGlyphs">s</text>
<path d="M135.7,194.6h14.3M135.7,198.7h14.3" stroke="#000" stroke-width="1"/>
<text x="156.5" y="201.5" font-family="Liberation Serif, serif" font-size="19.2" textLength="10" lengthAdjust="spacingAndGlyphs">5</text>
<text x="173.6" y="201.5" font-family="Liberation Serif, serif" font-size="19.2" textLength="40.3" lengthAdjust="spacingAndGlyphs">meV</text>
<line x1="68.2" x2="85.9" y1="221.35" y2="221.35" stroke="#00a000" stroke-width="2.55"/>
<line x1="97.5" x2="114.9" y1="221.35" y2="221.35" stroke="#00a000" stroke-width="2.55"/>
<text x="120.2" y="223.6" font-family="Liberation Serif, serif" font-size="19.2" font-style="italic" textLength="8" lengthAdjust="spacingAndGlyphs">s</text>
<path d="M135.7,216.7h14.3M135.7,220.79999999999998h14.3" stroke="#000" stroke-width="1"/>
<text x="156.5" y="223.6" font-family="Liberation Serif, serif" font-size="19.2" textLength="19" lengthAdjust="spacingAndGlyphs">15</text>
<text x="183.3" y="223.6" font-family="Liberation Serif, serif" font-size="19.2" textLength="40.3" lengthAdjust="spacingAndGlyphs">meV</text>
<line x1="68.2" x2="72" y1="245.3" y2="245.3" stroke="#ff0000" stroke-width="2.55"/>
<line x1="76.8" x2="91.2" y1="245.3" y2="245.3" stroke="#ff0000" stroke-width="2.55"/>
<line x1="96.1" x2="100.0" y1="245.3" y2="245.3" stroke="#ff0000" stroke-width="2.55"/>
<line x1="105.5" x2="118.6" y1="245.3" y2="245.3" stroke="#ff0000" stroke-width="2.55"/>
<text x="120.2" y="250.3" font-family="Liberation Serif, serif" font-size="19.2" font-style="italic" textLength="8" lengthAdjust="spacingAndGlyphs">s</text>
<path d="M135.7,243.4h14.3M135.7,247.5h14.3" stroke="#000" stroke-width="1"/>
<text x="156.5" y="250.3" font-family="Liberation Serif, serif" font-size="19.2" textLength="19" lengthAdjust="spacingAndGlyphs">25</text>
<text x="183.3" y="250.3" font-family="Liberation Serif, serif" font-size="19.2" textLength="40.3" lengthAdjust="spacingAndGlyphs">meV</text>
</svg>
</body></html>
